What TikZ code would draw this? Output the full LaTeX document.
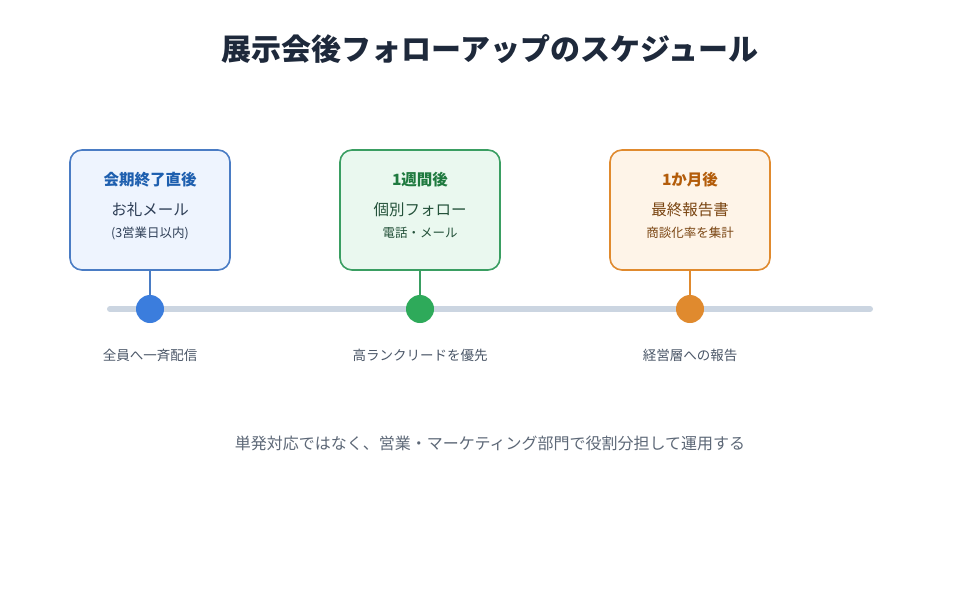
\documentclass[tikz,border=0pt]{standalone}
\usepackage{fontspec}
\setmainfont{Noto Sans CJK JP}
\begin{document}
\begin{tikzpicture}[x=1pt,y=-1pt,
 box/.style={draw,line width=1.6pt,rounded corners=12pt,minimum width=160pt,minimum height=120pt},
 dot/.style={circle,minimum size=28pt,inner sep=0},
 lab/.style={font=\fontsize{13.5}{15}\selectfont,text=gray1}]
\definecolor{gray1}{HTML}{4B5768}
\definecolor{titlec}{HTML}{1E293B}
\definecolor{linec}{HTML}{CBD5E1}
\definecolor{bS}{HTML}{4A7CC4}\definecolor{bF}{HTML}{EEF4FE}\definecolor{bT}{HTML}{1E5FAF}\definecolor{bD}{HTML}{3B7DDD}\definecolor{bB}{HTML}{2F3F57}
\definecolor{gS}{HTML}{3A9E62}\definecolor{gF}{HTML}{EAF8EF}\definecolor{gT}{HTML}{1F7A3F}\definecolor{gD}{HTML}{2EAA5A}\definecolor{gB}{HTML}{24523A}
\definecolor{oS}{HTML}{E08A2E}\definecolor{oF}{HTML}{FEF4E8}\definecolor{oT}{HTML}{B35C0A}\definecolor{oD}{HTML}{E08A2E}\definecolor{oB}{HTML}{7A4512}
\useasboundingbox[fill=white] (0,0) rectangle (980,600);
\node[font=\bfseries\fontsize{30}{35}\selectfont,text=titlec] (title) at (490,49) {展示会後フォローアップのスケジュール};
\coordinate (L) at (110,309); \coordinate (R) at (870,309);
\draw[line width=6pt,line cap=round,color=linec] (L) -- (R);
\foreach \n/\x/\c/\h/\a/\b/\l in {1/150/b/会期終了直後/お礼メール/(3営業日以内)/全員へ一斉配信, 2/420/g/1週間後/個別フォロー/電話・メール/高ランクリードを優先, 3/690/o/1か月後/最終報告書/商談化率を集計/経営層への報告}{
 \node[box,draw=\c S,fill=\c F] (box\n) at (\x,210) {};
 \node[font=\bfseries\fontsize{15.5}{18}\selectfont,text=\c T] (h\n) at (\x,180) {\h};
 \node[font=\fontsize{15.5}{18}\selectfont,text=\c B] (a\n) at (\x,210) {\a};
 \node[font=\fontsize{12.5}{14}\selectfont,text=\c B] (b\n) at (\x,233) {\b};
 \node[dot,fill=\c D] (d\n) at (\x,309) {};
 \draw[line width=1.6pt,draw=\c S] (box\n.south) -- (d\n.north);
 \node[lab] (l\n) at (\x,355) {\l};
}
\node[font=\fontsize{16}{19}\selectfont,text=gray1!90] (note) at (490,443) {単発対応ではなく、営業・マーケティング部門で役割分担して運用する};
\end{tikzpicture}
\end{document}
